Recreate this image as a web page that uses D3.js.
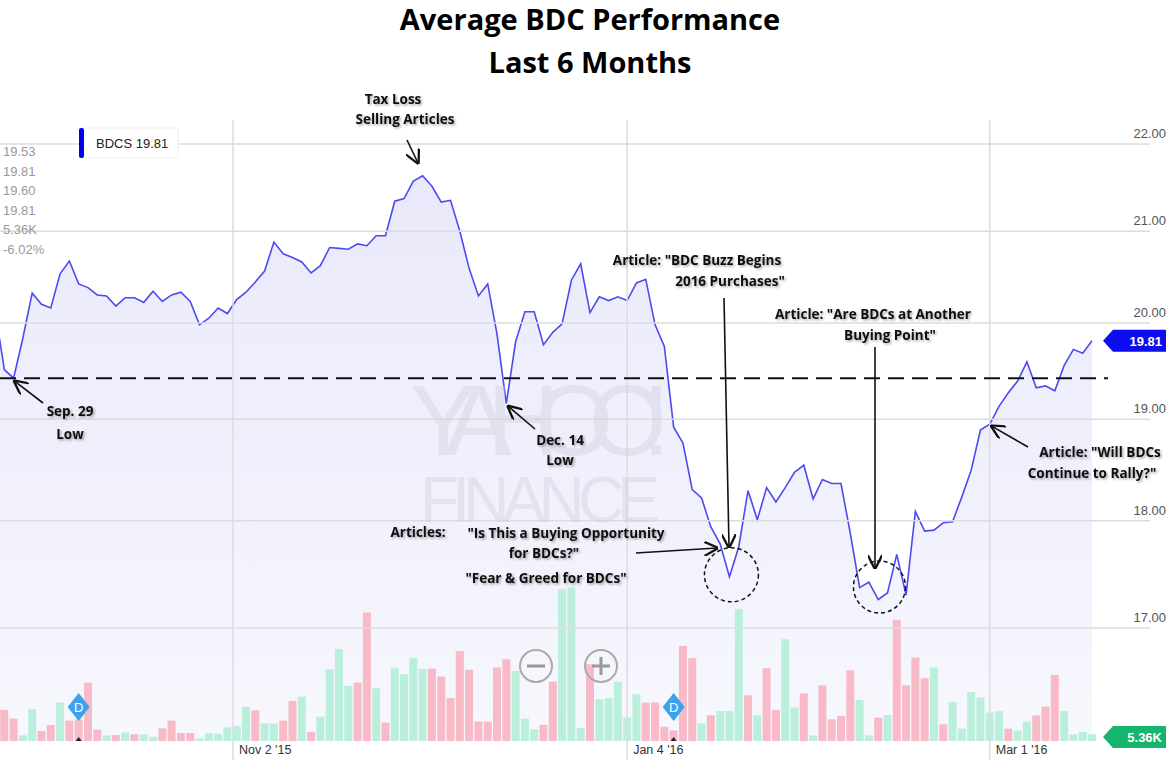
<!DOCTYPE html>
<html><head><meta charset="utf-8">
<script src="https://cdn.jsdelivr.net/npm/d3@7"></script>
<style>body{margin:0;background:#fff}svg{display:block}</style>
</head><body>
<svg id="c" width="1168" height="773"></svg>
<script>
const prices=[20.14,19.51,19.42,19.84,20.32,20.20,20.16,20.53,20.67,20.42,20.38,20.30,20.29,20.18,20.27,20.27,20.22,20.34,20.23,20.30,20.33,20.23,19.98,20.05,20.16,20.10,20.25,20.33,20.44,20.56,20.88,20.75,20.71,20.66,20.54,20.62,20.82,20.81,20.80,20.86,20.84,20.95,20.95,21.34,21.37,21.57,21.63,21.51,21.33,21.35,21.00,20.59,20.29,20.42,19.88,19.16,19.80,20.12,20.12,19.77,19.90,19.99,20.46,20.64,20.11,20.28,20.24,20.28,20.24,20.43,20.47,19.98,19.75,18.92,18.76,18.30,18.22,17.94,17.78,17.47,17.75,18.29,18.01,18.32,18.18,18.32,18.47,18.54,18.21,18.40,18.36,18.36,17.88,17.37,17.42,17.26,17.32,17.68,17.30,18.09,17.90,17.91,17.98,17.99,18.23,18.49,18.89,18.95,19.13,19.27,19.39,19.59,19.32,19.34,19.29,19.55,19.72,19.68,19.81];
const volH=[20,90,64,14,92,27,45,112,58,62,172,31,14,15,23,17,17,10,35,58,21,21,4,20,18,38,42,99,89,50,49,58,117,130,24,70,212,272,162,172,382,155,52,215,197,246,213,214,190,126,266,210,55,55,217,242,207,64,32,45,175,452,457,36,227,122,125,174,67,137,112,112,40,29,282,245,50,74,87,87,392,134,74,215,90,302,97,140,14,164,62,72,209,120,14,67,75,360,164,247,185,217,47,114,34,144,127,82,86,34,29,55,74,100,195,87,17,24,17];
const volumesK=volH.map(h=>+(h*0.315).toFixed(1));
const volUp="pppggppgppppgpgpggppppggggggpggppgpggggppgpggggpppppppppgggppgggpgggggppppppgpgggpgppggpgppppggpgppppgpggggggpggpppgggg".split("").map(c=>c==="g");
const tickIdx=[25.6,68,107];
const tickLabels=["Nov 2 '15","Jan 4 '16","Mar 1 '16"];
const priceTicks=[17,18,19,20,21,22];
const statsLines=["19.53","19.81","19.60","19.81","5.36K","-6.02%"];
const lastPrice=19.81, lastVol="5.36K", refLevel=19.42;

const svg=d3.select("#c");
const x=d3.scaleLinear().domain([0,118]).range([-5,1092]);
const y=d3.scaleLog().domain([17,22]).range([628,144]);
const yv=d3.scaleLinear().domain([0,150]).range([740,581]);
const F="'Open Sans',sans-serif";

const defs=svg.append("defs");
const g=defs.append("linearGradient").attr("id","ar").attr("x1",0).attr("x2",0).attr("y1",0).attr("y2",1);
g.append("stop").attr("offset","0").attr("stop-color","#e9e9fb");
g.append("stop").attr("offset","1").attr("stop-color","#f7f7fe");
defs.append("clipPath").attr("id","cp").append("rect").attr("x",0).attr("y",100).attr("width",1100).attr("height",660);
const f=defs.append("filter").attr("id","sh").attr("x","-10%").attr("y","-30%").attr("width","130%").attr("height","170%");
f.append("feDropShadow").attr("dx",1.5).attr("dy",1.5).attr("stdDeviation",1).attr("flood-color","#000").attr("flood-opacity",0.35);

const plot=svg.append("g").attr("clip-path","url(#cp)");
plot.append("path").datum(prices).attr("fill","url(#ar)")
 .attr("d",d3.area().x((d,i)=>x(i)).y0(741).y1(d=>y(d)));

const grid=svg.append("g").attr("stroke","#dcdce0").attr("stroke-width",1.5);
priceTicks.forEach(t=>grid.append("line").attr("x1",0).attr("x2",1150).attr("y1",y(t)).attr("y2",y(t)));
tickIdx.forEach(t=>grid.append("line").attr("x1",x(t)).attr("x2",x(t)).attr("y1",120).attr("y2",760));

// watermark (decorative)
const wm=svg.append("g").attr("opacity",0.4).attr("fill","#cfcfdc").attr("font-family","'Liberation Sans',sans-serif").attr("text-anchor","middle");
wm.append("path").attr("d","M0,0");
wm.append("text").attr("x",540).attr("y",455).attr("font-size",100).attr("textLength",260).text("YAHOO!");
wm.append("text").attr("x",540).attr("y",522).attr("font-size",64).attr("textLength",240).text("FINANCE");

plot.selectAll("rect.v").data(volumesK).join("rect").attr("class","v")
 .attr("x",(d,i)=>x(i)-4).attr("width",8).attr("y",d=>yv(d)).attr("height",d=>741-yv(d))
 .attr("fill",(d,i)=>volUp[i]?"#b6efd9":"#f9b6c4").attr("opacity",0.95);

plot.append("path").datum(prices).attr("fill","none").attr("stroke","#4b4bf0").attr("stroke-width",1.6)
 .attr("d",d3.line().x((d,i)=>x(i)).y(d=>y(d)));

priceTicks.forEach(t=>svg.append("text").attr("x",1166).attr("y",y(t)-6).attr("text-anchor","end")
 .attr("font-family","'Liberation Sans',sans-serif").attr("font-size",13).attr("fill","#555").text(t.toFixed(2)));
tickIdx.forEach((t,i)=>svg.append("text").attr("x",x(t)+6).attr("y",754).attr("font-family","'Liberation Sans',sans-serif")
 .attr("font-size",12.5).attr("fill","#333").text(tickLabels[i]));

function badge(yc,txt,col){
 svg.append("path").attr("d",`M1103,${yc} L1113,${yc-11} L1166,${yc-11} L1166,${yc+11} L1113,${yc+11} Z`).attr("fill",col);
 svg.append("text").attr("x",1162).attr("y",yc+5).attr("text-anchor","end").attr("font-family","'Liberation Sans',sans-serif")
  .attr("font-weight","bold").attr("font-size",13).attr("fill","#fff").text(txt);
}
badge(y(lastPrice),lastPrice.toFixed(2),"#0d0df0");
badge(737,lastVol,"#15b56c");

svg.append("rect").attr("x",80).attr("y",128).attr("width",98).attr("height",30).attr("rx",3).attr("fill","#fff").attr("stroke","#eee");
svg.append("rect").attr("x",79).attr("y",128).attr("width",5).attr("height",30).attr("rx",2).attr("fill","#0000ee");
svg.append("text").attr("x",96).attr("y",148).attr("font-family","'Liberation Sans',sans-serif").attr("font-size",13).attr("fill","#222").text("BDCS "+lastPrice.toFixed(2));
statsLines.forEach((s,i)=>svg.append("text").attr("x",3).attr("y",156+i*19.5).attr("font-family","'Liberation Sans',sans-serif")
 .attr("font-size",13).attr("fill","#999").text(s));

[[536,"−"],[601,"+"]].forEach(([cx,s])=>{
 svg.append("circle").attr("cx",cx).attr("cy",666).attr("r",16).attr("fill","none").attr("stroke","#aaa").attr("stroke-width",2);
 svg.append("line").attr("x1",cx-9).attr("x2",cx+9).attr("y1",666).attr("y2",666).attr("stroke","#999").attr("stroke-width",3);
 if(s==="+")svg.append("line").attr("x1",cx).attr("x2",cx).attr("y1",657).attr("y2",675).attr("stroke","#999").attr("stroke-width",3);
});
[9,73].forEach(i=>{
 const cx=x(i);
 svg.append("path").attr("d",`M${cx},693 L${cx+11},707 L${cx},721 L${cx-11},707Z`).attr("fill","#3ba3ec");
 svg.append("text").attr("x",cx).attr("y",712).attr("text-anchor","middle").attr("font-family","'Liberation Sans',sans-serif").attr("font-size",13).attr("fill","#fff").text("D");
 svg.append("path").attr("d",`M${cx},737 l3,4 l-6,0z`).attr("fill","#222");
});

svg.append("line").attr("x1",0).attr("x2",1108).attr("y1",y(refLevel)).attr("y2",y(refLevel)).attr("stroke","#111").attr("stroke-width",2).attr("stroke-dasharray","16,8");

[[79,27],[96,26]].forEach(([i,r])=>svg.append("circle").attr("cx",x(i)+ (i===79?2:-8)).attr("cy",y(prices[i])+(i===79?-2:-6)).attr("r",r)
 .attr("fill","none").attr("stroke","#111").attr("stroke-width",1.5).attr("stroke-dasharray","4,3"));

defs.append("marker").attr("id","ah").attr("viewBox","0 0 10 10").attr("refX",9).attr("refY",5).attr("markerWidth",9).attr("markerHeight",9).attr("orient","auto-start-reverse")
 .append("path").attr("d","M0,0 L10,5 L0,10").attr("fill","none").attr("stroke","#111").attr("stroke-width",1.6);
function arrow(x1,y1,x2,y2){svg.append("line").attr("x1",x1).attr("y1",y1).attr("x2",x2).attr("y2",y2).attr("stroke","#111").attr("stroke-width",1.6).attr("marker-end","url(#ah)");}
function label(xx,yy,t,anchor="middle"){svg.append("text").attr("x",xx).attr("y",yy).attr("text-anchor",anchor).attr("font-family","'Open Sans',sans-serif")
 .attr("font-weight","bold").attr("font-size",13.5).attr("fill","#111").attr("filter","url(#sh)").text(t);}
label(393,104,"Tax Loss");label(405,124,"Selling Articles");arrow(407,140,418,163);
label(70,416,"Sep. 29");label(70,439,"Low");arrow(43,403,x(2)+1,y(prices[2])+3);
label(560,445,"Dec. 14");label(560,465,"Low");arrow(535,429,x(55)+2,y(prices[55])+3);
label(697,265,"Article: \"BDC Buzz Begins");label(730,286,"2016 Purchases\"");arrow(724,298,729,547);
label(873,319,"Article: \"Are BDCs at Another");label(890,340,"Buying Point\"");arrow(875,347,875,568);
label(1100,457,"Article: \"Will BDCs");label(1092,478,"Continue to Rally?\"");arrow(1028,447,x(107)+2,y(prices[107])+2);
label(418,537,"Articles:");label(566,538,"\"Is This a Buying Opportunity");label(544,558,"for BDCs?\"");label(546,583,"\"Fear & Greed for BDCs\"");
arrow(636,553,717,548);

svg.append("text").attr("x",590).attr("y",30).attr("text-anchor","middle").attr("font-family",F).attr("font-weight","bold").attr("font-size",29).attr("fill","#000").text("Average BDC Performance");
svg.append("text").attr("x",590).attr("y",73).attr("text-anchor","middle").attr("font-family",F).attr("font-weight","bold").attr("font-size",29).attr("fill","#000").text("Last 6 Months");
</script></body></html>
